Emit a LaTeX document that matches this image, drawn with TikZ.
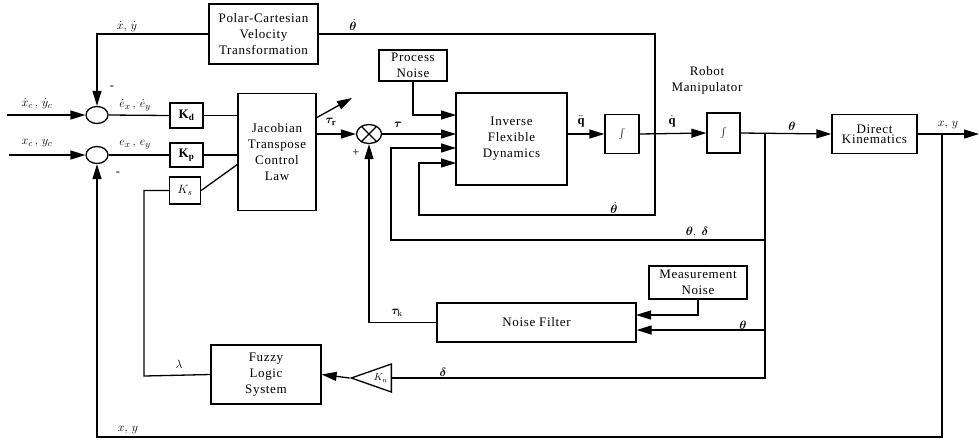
\documentclass[tikz,border=0pt]{standalone}
\usepackage{fontspec}
\usepackage{bm}
\setmainfont{Liberation Serif}
\newfontfamily\blkfont[LetterSpace=5]{Liberation Serif}
\usetikzlibrary{arrows.meta,shapes.geometric}

\begin{document}
\begin{tikzpicture}[x=1pt,y=-1pt,line width=1.3pt,
    blk/.style={draw,align=center,inner sep=0pt,font=\blkfont\fontsize{13}{16}\selectfont},
    sumj/.style={draw,ellipse,minimum width=22pt,minimum height=17pt,inner sep=0pt},
    lbl/.style={inner sep=0pt,font=\fontsize{12.5}{14}\selectfont},
    sig/.style={-{Triangle[length=15pt,width=9pt]}}]
  \useasboundingbox (0,0) rectangle (979,440);
  \node[blk,minimum width=109pt,minimum height=60pt] (pct) at (263.5,34) {Polar-Cartesian\\Velocity\\Transformation};
  \node[sumj] (s1) at (97,115) {};
  \node[sumj] (s2) at (97,155) {};
  \node[blk,minimum width=33pt,minimum height=25pt] (kd) at (186.5,115.5) {$\mathbf{K}_{\mathbf{d}}$};
  \node[blk,minimum width=33pt,minimum height=24pt] (kp) at (186.5,155) {$\mathbf{K}_{\mathbf{p}}$};
  \node[blk,minimum width=31pt,minimum height=27pt] (ks) at (185,190.5) {$K_s$};
  \node[blk,minimum width=78pt,minimum height=117pt] (jac) at (277,152) {Jacobian\\Transpose\\Control\\Law};
  \node[sumj,minimum width=25pt,minimum height=19pt] (mul) at (369,134) {};
  \draw (mul.45) -- (mul.225) (mul.135) -- (mul.315);
  \node[blk,minimum width=68pt,minimum height=31pt] (pn) at (413,65.5) {Process\\Noise};
  \node[blk,minimum width=111pt,minimum height=92pt] (ifd) at (511.5,139) {Inverse\\Flexible\\Dynamics};
  \node[blk,minimum width=34pt,minimum height=39pt] (int1) at (622,134) {$\int$};
  \node[blk,minimum width=33pt,minimum height=40pt] (int2) at (723.5,133) {$\int$};
  \node[blk,minimum width=85pt,minimum height=39pt,font=\blkfont\fontsize{13}{10}\selectfont] (dk) at (874.5,134) {Direct\\Kinematics};
  \node[blk,minimum width=98pt,minimum height=33pt] (mn) at (698,282.5) {Measurement\\Noise};
  \node[blk,minimum width=199pt,minimum height=39pt] (nf) at (536.5,322.5) {Noise Filter};
  \node[blk,minimum width=110pt,minimum height=59pt] (fz) at (266,374.5) {Fuzzy\\Logic\\System};
  \node[draw,isosceles triangle,shape border rotate=180,isosceles triangle stretches,
    minimum width=28pt,minimum height=40pt,inner sep=0pt,anchor=east] (kn) at (392,378) {$K_n$};
  \node[blk,draw=none] (rm) at (707,80) {Robot\\Manipulator};

  \coordinate (xdc) at (7,115);
  \coordinate (xc) at (9,155);
  \coordinate (jks) at (238,164);
  \coordinate (lamc) at (144,376);
  \coordinate (jtr) at (316,134);
  \coordinate (dg1) at (316,118);
  \coordinate (dg2) at (352,98);
  \coordinate (in1) at (456,115);
  \coordinate (in2) at (456,134);
  \coordinate (in3) at (456,148);
  \coordinate (in4) at (456,163);
  \coordinate (qb) at (655,215);
  \coordinate (qc) at (419,163);
  \coordinate (jth) at (765,134);
  \coordinate (td) at (765,240);
  \coordinate (tdc) at (391,148);
  \coordinate (dl) at (765,378);
  \coordinate (jxy) at (942,134);
  \coordinate (xyo) at (979,134);
  \coordinate (fbxy) at (942,437);
  \coordinate (nfa) at (636,315);
  \coordinate (nfb) at (765,330);

  \begin{scope}
    \draw[sig] (pct.west) -| (s1.north);
    \draw[sig] (xdc) -- (s1.west);
    \draw[sig] (xc) -- (s2.west);
    \draw (s1.east) -- (kd.west);
    \draw (s2.east) -- (kp.west);
    \draw (kd.east) -- (kd.east -| jac.west);
    \draw (kp.east) -- (kp.east -| jac.west);
    \draw (ks.east) -- (jks);
    \draw (ks.west) -| (lamc) -- (fz.west);
    \draw[sig] (jtr) -- (mul.west);
    \draw[sig] (dg1) -- (dg2);
    \draw[sig] (mul.east) -- (in2);
    \draw[sig] (pn.south) |- (in1);
    \draw[sig] (pct.east) -| (qb) -| (qc) -- (in4);
    \draw[sig] (td) -| (tdc) -- (in3);
    \draw[sig] (int1.west -| ifd.east) -- (int1.west);
    \draw[sig] (int1.east) -- (int2.west);
    \draw[sig] (int2.east) -- (dk.west);
    \draw[sig] (dk.east) -- (xyo);
    \draw[sig] (jxy) -- (fbxy) -| (s2.south);
    \draw (jth) -- (dl) -- (kn.east);
    \draw[sig] (kn.west) -- (fz.east);
    \draw[sig] (mn.south) |- (nfa);
    \draw[sig] (nfb) -- (nfb -| nf.east);
    \draw[sig] (nf.west) -| (mul.south);
  \end{scope}

  \node[lbl] (lxy1) at (127,27) {$\dot{x},\,\dot{y}$};
  \node[lbl] (lm1) at (112,88) {-};
  \node[lbl] (lm2) at (118,174) {-};
  \node[lbl] (lth1) at (353,25) {$\dot{\bm{\theta}}$};
  \node[lbl] (lxdc) at (37,104) {$\dot{x}_c\,,\,\dot{y}_c$};
  \node[lbl] (lxc) at (37,143) {$x_c\,,\,y_c$};
  \node[lbl] (ledt) at (135,105) {$\dot{e}_x\,,\,\dot{e}_y$};
  \node[lbl] (le) at (135,145) {$e_x\,,\,e_y$};
  \node[lbl] (ltr) at (331,122) {$\bm{\tau}_{\mathbf{r}}$};
  \node[lbl] (lpl) at (356,153) {+};
  \node[lbl] (ltau) at (398,125) {$\bm{\tau}$};
  \node[lbl] (lqdd) at (581,121) {$\ddot{\mathbf{q}}$};
  \node[lbl] (lqd) at (672,121) {$\dot{\mathbf{q}}$};
  \node[lbl] (lth2) at (792,126) {$\bm{\theta}$};
  \node[lbl] (lxy2) at (948,125) {$x,\,y$};
  \node[lbl] (lth3) at (614,208) {$\dot{\bm{\theta}}$};
  \node[lbl] (ltd) at (697,232) {$\bm{\theta},\;\bm{\delta}$};
  \node[lbl] (lth4) at (743,325) {$\bm{\theta}$};
  \node[lbl] (ltk) at (397,313) {$\bm{\tau}_{\mathrm{k}}$};
  \node[lbl] (llam) at (179,364) {$\lambda$};
  \node[lbl] (ldel) at (443,372) {$\bm{\delta}$};
  \node[lbl] (lxy3) at (128,430) {$x,\,y$};
\end{tikzpicture}
\end{document}
